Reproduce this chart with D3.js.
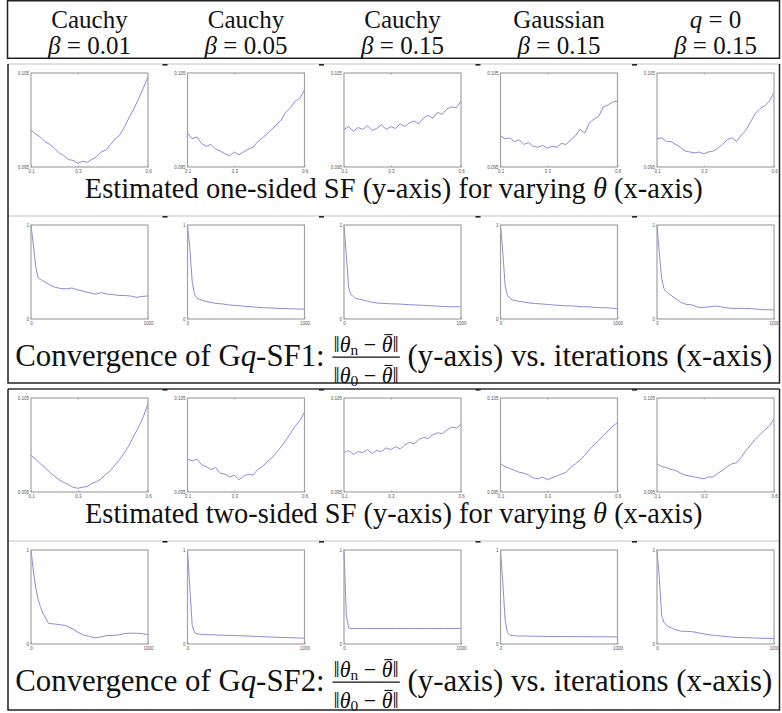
<!DOCTYPE html>
<html lang="en">
<head>
<meta charset="UTF-8" />
<title>Smoothed functional estimates and convergence</title>
<style>
  html, body { margin: 0; padding: 0; background: #fff; }
  svg { display: block; }
</style>
</head>
<body>
<div id="chart"></div>
<script src="https://d3js.org/d3.v7.min.js"></script>
<script>
  const W = 782, H = 713;
  const SERIF = "Liberation Serif";

  // column headers
  const headerNames = ["Cauchy", "Cauchy", "Cauchy", "Gaussian", "q = 0"];
  const betas = ["0.01", "0.05", "0.15", "0.15", "0.15"];

  // x values
  const thetas = [0.10, 0.12, 0.14, 0.16, 0.18, 0.20, 0.22, 0.24, 0.26, 0.28, 0.30, 0.32, 0.34,
                  0.36, 0.38, 0.40, 0.42, 0.44, 0.46, 0.48, 0.50, 0.52, 0.54, 0.56, 0.58, 0.60];
  const iterations = [0, 20, 40, 60, 80, 100, 150, 200, 250, 300, 350, 400, 450, 500,
                      550, 600, 650, 700, 750, 800, 850, 900, 950, 1000];

  // tick labels
  const sfTicksX = [0.1, 0.3, 0.6];
  const sfTicksY = [0.095, 0.105];
  const convTicksX = [0, 1000];
  const convTicksY = [0, 1];

  // estimated one-sided SF, one array per column
  const oneSidedSF = [
    [0.0989,0.0985,0.0982,0.0977,0.0974,0.0970,0.0965,0.0962,0.0958,0.0957,0.0954,0.0956,0.0955,0.0958,0.0961,0.0966,0.0968,0.0974,0.0980,0.0984,0.0993,0.1003,0.1012,0.1023,0.1034,0.1046],
    [0.0986,0.0980,0.0982,0.0975,0.0972,0.0974,0.0969,0.0967,0.0964,0.0962,0.0966,0.0963,0.0966,0.0969,0.0971,0.0977,0.0981,0.0985,0.0990,0.0995,0.1000,0.1008,0.1013,0.1020,0.1023,0.1032],
    [0.0990,0.0993,0.0988,0.0992,0.0990,0.0994,0.0989,0.0991,0.0995,0.0990,0.0993,0.0991,0.0996,0.0993,0.0997,0.0999,0.0996,0.1002,0.1005,0.1002,0.1008,0.1006,0.1012,0.1014,0.1013,0.1020],
    [0.0983,0.0980,0.0981,0.0977,0.0979,0.0974,0.0976,0.0972,0.0971,0.0973,0.0970,0.0972,0.0971,0.0975,0.0974,0.0979,0.0983,0.0990,0.0986,0.0997,0.1001,0.1004,0.1014,0.1016,0.1019,0.1020],
    [0.0980,0.0981,0.0977,0.0977,0.0974,0.0971,0.0967,0.0966,0.0965,0.0966,0.0964,0.0966,0.0967,0.0970,0.0974,0.0979,0.0981,0.0977,0.0984,0.0989,0.0998,0.1007,0.1012,0.1015,0.1020,0.1029]
  ];

  // estimated two-sided SF
  const twoSidedSF = [
    [0.0989,0.0985,0.0980,0.0976,0.0971,0.0967,0.0963,0.0960,0.0958,0.0955,0.0954,0.0955,0.0956,0.0959,0.0961,0.0964,0.0969,0.0973,0.0979,0.0985,0.0992,0.1000,0.1010,0.1019,0.1030,0.1044],
    [0.0985,0.0983,0.0985,0.0979,0.0977,0.0974,0.0976,0.0970,0.0969,0.0966,0.0968,0.0963,0.0967,0.0969,0.0968,0.0974,0.0977,0.0982,0.0986,0.0992,0.0998,0.1005,0.1012,0.1020,0.1026,0.1035],
    [0.0992,0.0994,0.0990,0.0993,0.0992,0.0995,0.0991,0.0994,0.0993,0.0997,0.0995,0.0998,0.0996,0.1000,0.1003,0.1001,0.1006,0.1008,0.1007,0.1011,0.1013,0.1012,0.1016,0.1019,0.1018,0.1022],
    [0.0980,0.0977,0.0975,0.0973,0.0971,0.0970,0.0968,0.0965,0.0964,0.0966,0.0963,0.0965,0.0967,0.0969,0.0971,0.0976,0.0980,0.0984,0.0989,0.0995,0.1000,0.1005,0.1010,0.1015,0.1020,0.1024],
    [0.0980,0.0977,0.0976,0.0974,0.0973,0.0970,0.0968,0.0967,0.0966,0.0965,0.0964,0.0966,0.0966,0.0970,0.0973,0.0977,0.0980,0.0981,0.0987,0.0994,0.1000,0.1006,0.1011,0.1016,0.1020,0.1028]
  ];

  // relative error ||theta_n - theta*|| / ||theta_0 - theta*||, Gq-SF1
  const convergenceSF1 = [
    [1.0,0.79,0.56,0.44,0.42,0.41,0.37,0.34,0.325,0.32,0.33,0.31,0.295,0.28,0.265,0.28,0.265,0.26,0.25,0.25,0.245,0.23,0.24,0.245],
    [1.0,0.75,0.40,0.26,0.22,0.21,0.19,0.175,0.165,0.16,0.15,0.145,0.14,0.135,0.13,0.125,0.12,0.118,0.115,0.112,0.11,0.108,0.106,0.105],
    [1.0,0.68,0.33,0.26,0.24,0.22,0.205,0.19,0.175,0.168,0.165,0.162,0.16,0.157,0.153,0.15,0.147,0.144,0.14,0.137,0.133,0.13,0.13,0.13],
    [1.0,0.70,0.35,0.25,0.22,0.205,0.19,0.18,0.17,0.165,0.16,0.155,0.15,0.145,0.14,0.14,0.135,0.13,0.13,0.125,0.12,0.12,0.115,0.11],
    [1.0,0.70,0.43,0.32,0.29,0.27,0.225,0.18,0.155,0.15,0.125,0.124,0.13,0.138,0.128,0.118,0.113,0.113,0.113,0.11,0.105,0.10,0.098,0.096]
  ];

  // same for Gq-SF2
  const convergenceSF2 = [
    [1.0,0.78,0.60,0.48,0.40,0.33,0.22,0.213,0.205,0.195,0.165,0.125,0.095,0.08,0.065,0.075,0.09,0.092,0.097,0.112,0.115,0.115,0.11,0.10],
    [1.0,0.60,0.20,0.12,0.11,0.105,0.10,0.098,0.096,0.094,0.092,0.09,0.088,0.085,0.083,0.08,0.077,0.075,0.072,0.07,0.068,0.066,0.064,0.062],
    [1.0,0.30,0.17,0.165,0.165,0.165,0.165,0.165,0.165,0.165,0.165,0.165,0.165,0.165,0.165,0.165,0.165,0.165,0.165,0.165,0.165,0.165,0.165,0.165],
    [1.0,0.65,0.25,0.12,0.095,0.09,0.085,0.085,0.083,0.082,0.082,0.08,0.08,0.08,0.079,0.079,0.078,0.078,0.078,0.077,0.077,0.077,0.076,0.076],
    [1.0,0.70,0.30,0.23,0.20,0.185,0.155,0.137,0.134,0.131,0.12,0.108,0.097,0.09,0.085,0.078,0.072,0.07,0.068,0.066,0.063,0.061,0.06,0.058]
  ];

  // layout
  const plotX0 = 31, colStep = 156.5, plotW = 117, plotH = 94;
  const tableL = 8, tableR = 779.5, cx = (tableL + tableR) / 2;
  const groupTops = [64, 389], groupH = 319, groupShift = 325;

  const rows = [
    { top: 73, kind: "sf", series: oneSidedSF },
    { top: 225, kind: "conv", series: convergenceSF1 },
    { top: 398, kind: "sf", series: twoSidedSF },
    { top: 550, kind: "conv", series: convergenceSF2 }
  ];

  const svg = d3.select("#chart").append("svg")
    .attr("width", W)
    .attr("height", H);

  svg.append("rect").attr("width", W).attr("height", H).attr("fill", "#fff");

  // table frame
  const frame = svg.append("g").attr("fill", "none");
  frame.append("rect")
    .attr("x", 7.5).attr("y", 0.75)
    .attr("width", tableR - 7.5).attr("height", 57.5)
    .attr("stroke", "#222").attr("stroke-width", 1.5);

  groupTops.forEach((top, gi) => {
    const bottom = top + groupH + (gi === 1 ? 2 : 0);
    frame.append("line")
      .attr("x1", tableL).attr("x2", tableR).attr("y1", top).attr("y2", top)
      .attr("stroke", gi === 0 ? "#c4c4c4" : "#333").attr("stroke-width", gi === 0 ? 1 : 1.4);
    frame.append("line")
      .attr("x1", tableL).attr("x2", tableR).attr("y1", top + 152).attr("y2", top + 152)
      .attr("stroke", "#c4c4c4").attr("stroke-width", 1);
    frame.append("path")
      .attr("d", `M${tableL},${top}V${bottom}H${tableR}V${top}`)
      .attr("stroke", "#222").attr("stroke-width", 1.5);
    [top, top + 152].forEach(yy => {
      d3.range(4).forEach(k => {
        frame.append("rect")
          .attr("x", 165 + k * colStep - 2.5).attr("y", yy)
          .attr("width", 5).attr("height", 1.6)
          .attr("fill", "#222");
      });
    });
  });

  function serifText(parent, size) {
    return parent.append("text")
      .attr("font-family", SERIF)
      .attr("font-size", size)
      .attr("fill", "#111");
  }

  // single letters and Greek symbols are set in italic
  function appendMath(text, s) {
    s.split(" ").forEach((tok, i) => {
      const italic = /^[a-zA-Zα-ω]$/.test(tok);
      text.append("tspan")
        .attr("font-style", italic ? "italic" : null)
        .text((i > 0 ? " " : "") + tok);
    });
  }

  // header
  headerNames.forEach((name, c) => {
    const x = plotX0 + c * colStep + plotW / 2;
    const t1 = serifText(svg, 25).attr("x", x).attr("y", 27.5).attr("text-anchor", "middle");
    appendMath(t1, name);
    const t2 = serifText(svg, 25).attr("x", x).attr("y", 53.5).attr("text-anchor", "middle");
    appendMath(t2, "β = " + betas[c]);
  });

  // small panels
  rows.forEach(row => {
    const sf = row.kind === "sf";
    const xs = sf ? thetas : iterations;
    row.series.forEach((vals, c) => {
      const g = svg.append("g")
        .attr("transform", `translate(${plotX0 + c * colStep},${row.top})`);
      const x = d3.scaleLinear()
        .domain(sf ? d3.extent(sfTicksX) : d3.extent(convTicksX))
        .range([0, plotW]);
      const y = d3.scaleLinear()
        .domain(sf ? d3.extent(sfTicksY) : d3.extent(convTicksY))
        .range([plotH, 0]);

      g.append("path")
        .datum(vals.map((v, i) => [xs[i], v]))
        .attr("fill", "none")
        .attr("stroke", "#7e7ed8")
        .attr("stroke-width", 0.9)
        .attr("d", d3.line().x(d => x(d[0])).y(d => y(d[1])));

      g.append("rect")
        .attr("width", plotW).attr("height", plotH)
        .attr("fill", "none").attr("stroke", "#a3a3a3").attr("stroke-width", 1.2);

      const xAxis = g.append("g")
        .attr("transform", `translate(0,${plotH})`)
        .call(d3.axisBottom(x)
          .tickValues(sf ? sfTicksX : convTicksX)
          .tickSize(-1.5).tickPadding(3)
          .tickFormat(d => String(d)));
      const yAxis = g.append("g")
        .call(d3.axisLeft(y)
          .tickValues(sf ? sfTicksY : convTicksY)
          .tickSize(0).tickPadding(2)
          .tickFormat(d => String(d)));
      if (sf) {
        g.append("g")
          .call(d3.axisTop(x).tickValues([sfTicksX[1]]).tickSize(-1.5).tickFormat(""))
          .call(a => a.select(".domain").remove())
          .selectAll("line").attr("stroke", "#999");
      }
      [xAxis, yAxis].forEach(a => {
        a.select(".domain").remove();
        a.selectAll("line").attr("stroke", "#999");
        a.selectAll("text").attr("font-size", 4.5).attr("fill", "#555");
      });
    });
  });

  // captions
  function simpleCaption(yBase, which) {
    const t = serifText(svg, 28).attr("x", cx).attr("y", yBase).attr("text-anchor", "middle");
    t.append("tspan").text(`Estimated ${which} SF (y-axis) for varying `);
    t.append("tspan").attr("font-style", "italic").text("θ");
    t.append("tspan").text(" (x-axis)");
    const len = t.node().getComputedTextLength();
    t.attr("font-size", 28 * 618 / len);
  }

  // ||theta_k - theta_bar||, the bar over the second theta is drawn as a line
  function normText(g, yBase, sub) {
    const t = serifText(g, 20).attr("y", yBase).attr("text-anchor", "middle");
    t.append("tspan").text("‖");
    t.append("tspan").attr("font-style", "italic").text("θ");
    t.append("tspan").attr("font-size", 14).attr("dy", 3).text(sub);
    t.append("tspan").attr("dy", -3).text(" − ");
    t.append("tspan").attr("font-style", "italic").text("θ");
    t.append("tspan").text("‖");
    return t;
  }

  function fractionCaption(yBase, label) {
    const g = svg.append("g");
    const left = serifText(g, 28);
    left.append("tspan").text("Convergence of G");
    left.append("tspan").attr("font-style", "italic").text("q");
    left.append("tspan").text(`-${label}:`);
    const lw = left.node().getComputedTextLength();
    const fx = lw + 7;
    const num = normText(g, -13, "n");
    const den = normText(g, 15, "0");
    const fw = Math.max(num.node().getComputedTextLength(), den.node().getComputedTextLength()) + 2;
    [num, den].forEach(t => {
      t.attr("x", fx + fw / 2);
      const box = t.node().getExtentOfChar(6);
      const base = +t.attr("y");
      g.append("line")
        .attr("x1", box.x + 2.5).attr("x2", box.x + box.width)
        .attr("y1", base - 15.5).attr("y2", base - 15.5)
        .attr("stroke", "#111").attr("stroke-width", 1);
    });
    g.append("line")
      .attr("x1", fx).attr("x2", fx + fw).attr("y1", -8).attr("y2", -8)
      .attr("stroke", "#111").attr("stroke-width", 1.1);
    const right = serifText(g, 28).attr("x", fx + fw + 7).text("(y-axis) vs. iterations (x-axis)");
    const total = fx + fw + 7 + right.node().getComputedTextLength();
    const s = 757 / total;
    g.attr("transform", `translate(${cx - total * s / 2},${yBase}) scale(${s})`);
  }

  simpleCaption(198, "one-sided");
  fractionCaption(366, "SF1");
  simpleCaption(198 + groupShift, "two-sided");
  fractionCaption(366 + groupShift, "SF2");
</script>
</body>
</html>
